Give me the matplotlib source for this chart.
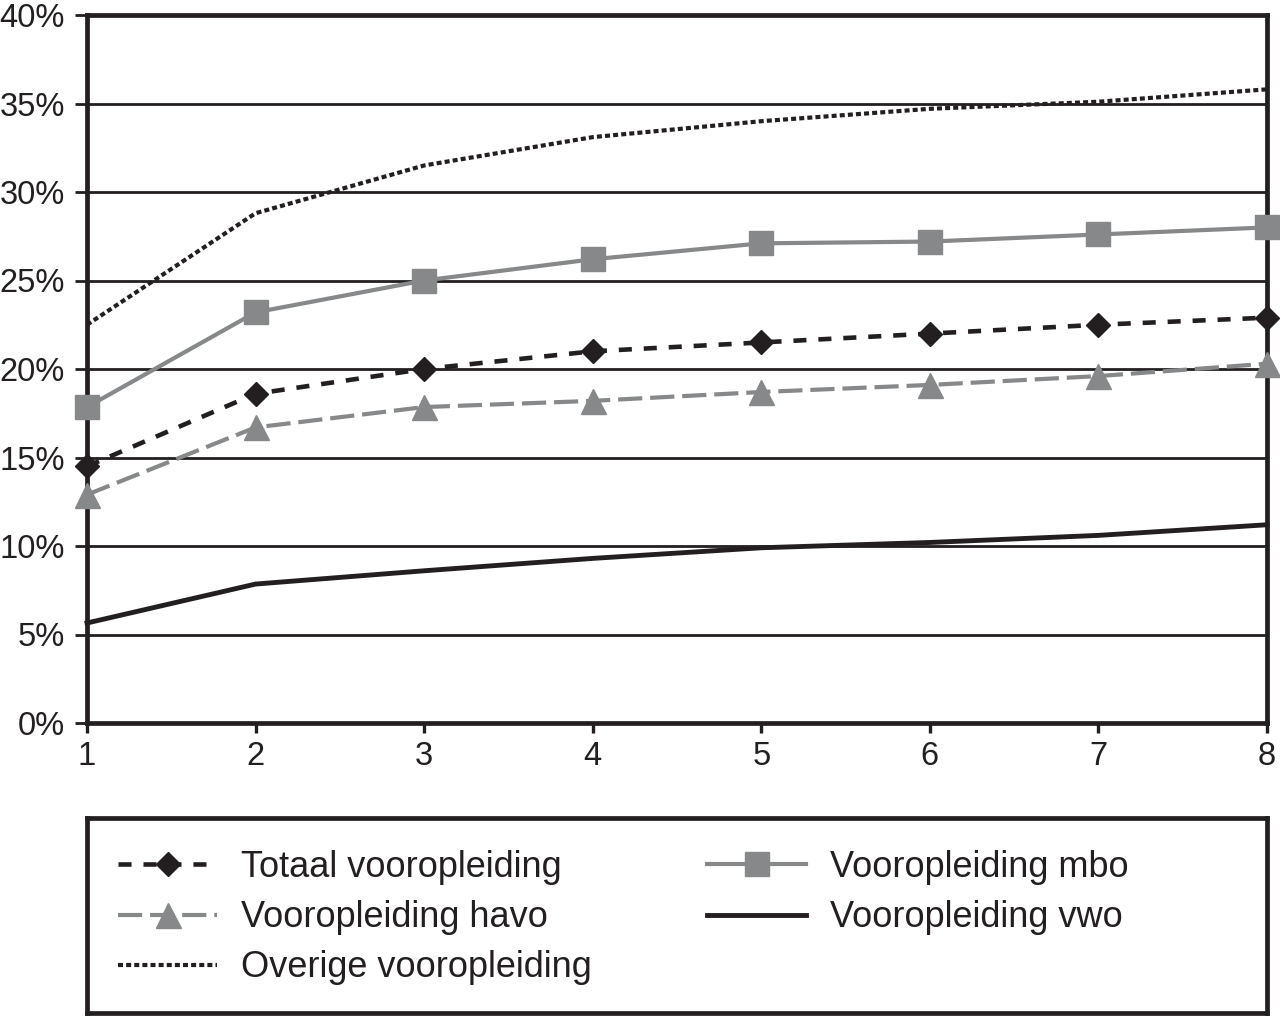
import matplotlib
matplotlib.use("Agg")
import matplotlib.pyplot as plt
from matplotlib.ticker import FuncFormatter

plt.rcParams['font.family'] = ['Liberation Sans', 'DejaVu Sans']

years = [1, 2, 3, 4, 5, 6, 7, 8]
totaal = [14.5, 18.6, 20.0, 21.0, 21.5, 22.0, 22.5, 22.9]
havo = [12.9, 16.7, 17.85, 18.2, 18.7, 19.1, 19.6, 20.3]
overige = [22.5, 28.8, 31.5, 33.1, 34.0, 34.7, 35.1, 35.8]
mbo = [17.85, 23.2, 25.0, 26.2, 27.1, 27.2, 27.6, 28.0]
vwo = [5.65, 7.85, 8.6, 9.3, 9.9, 10.2, 10.6, 11.2]

labels = ["Totaal vooropleiding", "Vooropleiding havo", "Overige vooropleiding",
          "Vooropleiding mbo", "Vooropleiding vwo"]
yticks = [0, 5, 10, 15, 20, 25, 30, 35, 40]

BLACK = "#231f20"
GRAY = "#87888a"

fig = plt.figure(figsize=(12.8, 10.16), dpi=100)
W, H = 1280, 1016
ax = fig.add_axes([87 / W, 1 - 723 / H, (1267 - 87) / W, (723 - 15) / H])

ax.set_xlim(1, 8)
ax.set_ylim(0, 40)
ax.set_yticks(yticks)
ax.set_xticks(years)
ax.yaxis.set_major_formatter(FuncFormatter(lambda v, p: f"{int(v)}%"))
ax.grid(axis='y', color=BLACK, linewidth=2.0)
ax.set_axisbelow(True)
for s in ax.spines.values():
    s.set_linewidth(3.4)
    s.set_color(BLACK)
ax.tick_params(axis='y', length=9, width=2.0, pad=7, labelsize=23.5, colors=BLACK)
ax.tick_params(axis='x', length=7, width=2.4, pad=6, labelsize=23.5, colors=BLACK)

h_tot, = ax.plot(years, totaal, color=BLACK, lw=3.3, dashes=(2.85, 2.6), marker='D',
                 ms=12, mec=BLACK, mfc=BLACK, clip_on=False, zorder=4)
h_havo, = ax.plot(years, havo, color=GRAY, lw=3.0, dashes=(5.8, 1.9), marker='^',
                  ms=18, mec=GRAY, mfc=GRAY, clip_on=False, zorder=4)
h_ov, = ax.plot(years, overige, color=BLACK, lw=3.0, dashes=(1.2, 0.75),
                clip_on=False, zorder=4)
h_mbo, = ax.plot(years, mbo, color=GRAY, lw=3.0, marker='s', ms=17, mec=GRAY, mfc=GRAY,
                 clip_on=False, zorder=4)
h_vwo, = ax.plot(years, vwo, color=BLACK, lw=3.5, clip_on=False, zorder=4)

# legend box
lax = fig.add_axes([87 / W, 1 - 1013 / H, (1267 - 87) / W, (1013 - 818) / H])
lax.set_xticks([])
lax.set_yticks([])
for s in lax.spines.values():
    s.set_linewidth(3.4)
    s.set_color(BLACK)

handles = [h_tot, h_havo, h_ov, h_mbo, h_vwo]
leg = lax.legend(handles, labels, ncol=2, loc='upper left',
                 bbox_to_anchor=(118 / W, 1 - 850 / H), bbox_transform=fig.transFigure,
                 frameon=False, fontsize=26, handlelength=2.75, handletextpad=0.65,
                 columnspacing=3.2, labelspacing=0.42, borderpad=0, borderaxespad=0)
for t in leg.get_texts():
    t.set_color(BLACK)

fig.savefig("out.png", dpi=100)
